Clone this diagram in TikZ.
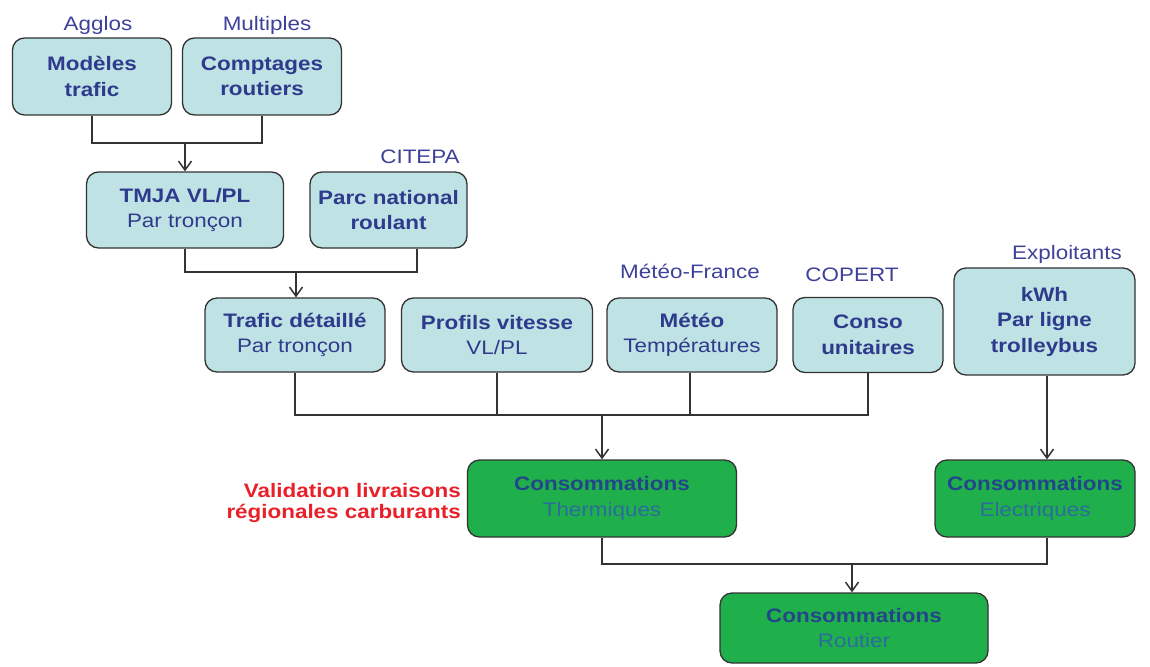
\documentclass[tikz,border=0pt]{standalone}
\usepackage{fontspec}
\setmainfont[FakeStretch=1.15]{Liberation Sans}
\usetikzlibrary{arrows.meta,calc}
\definecolor{boxfill}{HTML}{BFE2E4}
\definecolor{navy}{HTML}{2E3B8C}
\definecolor{lblblue}{HTML}{3E4199}
\definecolor{gfill}{HTML}{1FAF4B}
\definecolor{gtext}{HTML}{23468A}
\definecolor{gsub}{HTML}{2C6C9E}
\definecolor{redtxt}{HTML}{E8202A}
\definecolor{linec}{HTML}{333333}
\tikzset{
  bluebox/.style={draw=linec, line width=1.3pt, fill=boxfill, rounded corners=12pt,
    inner sep=0pt, align=center, text=navy, font=\fontsize{19.5}{25.5}\selectfont},
  greenbox/.style={draw=linec, line width=1.3pt, fill=gfill, rounded corners=12pt,
    inner sep=0pt, align=center, font=\fontsize{19.5}{25.5}\selectfont},
  srclabel/.style={text=lblblue, font=\fontsize{19.5}{22}\selectfont, inner sep=0pt},
  conn/.style={draw=linec, line width=1.6pt},
  arr/.style={conn, -{Straight Barb[length=9pt,width=13pt,line width=1.5pt]}},
}
\begin{document}
\begin{tikzpicture}[x=1pt,y=-1pt]
\useasboundingbox (0,0) rectangle (1150,666);
% top row
\node[bluebox, minimum width=159pt, minimum height=77pt] (mod) at (92,76.5) {\textbf{Modèles}\\\textbf{trafic}};
\node[bluebox, minimum width=159pt, minimum height=77pt] (comp) at (262,76.5) {\textbf{Comptages}\\\textbf{routiers}};
\node[srclabel] (lagg) at (98,25) {Agglos};
\node[srclabel] (lmul) at (267,25) {Multiples};
% second row
\node[bluebox, minimum width=197pt, minimum height=76pt] (tmja) at (185,210) {\textbf{TMJA VL/PL}\\Par tronçon};
\node[bluebox, minimum width=157pt, minimum height=76pt] (parc) at (388.5,210) {\textbf{Parc national}\\\textbf{roulant}};
\node[srclabel] (lcit) at (420,157) {CITEPA};
% third row
\node[bluebox, minimum width=180pt, minimum height=74pt] (traf) at (295,335) {\textbf{Trafic détaillé}\\Par tronçon};
\node[bluebox, minimum width=191pt, minimum height=74pt] (prof) at (497,335) {\textbf{Profils vitesse}\\VL/PL};
\node[bluebox, minimum width=170pt, minimum height=74pt] (meteo) at (692,335) {\textbf{Météo}\\Températures};
\node[bluebox, minimum width=150pt, minimum height=75pt] (conso) at (868,335) {\textbf{Conso}\\\textbf{unitaires}};
\node[bluebox, minimum width=181pt, minimum height=107pt] (kwh) at (1044.5,321.5) {\textbf{kWh}\\\textbf{Par ligne}\\\textbf{trolleybus}};
\node[srclabel] (lmet) at (690,271) {Météo-France};
\node[srclabel] (lcop) at (852,275) {COPERT};
\node[srclabel] (lexp) at (1067,254) {Exploitants};
% green row
\node[greenbox, minimum width=269pt, minimum height=77pt] (ther) at (602,498.5) {\textcolor{gtext}{\textbf{Consommations}}\\\textcolor{gsub}{Thermiques}};
\node[greenbox, minimum width=200pt, minimum height=77pt] (elec) at (1035,498.5) {\textcolor{gtext}{\textbf{Consommations}}\\\textcolor{gsub}{Electriques}};
\node[greenbox, minimum width=268pt, minimum height=70pt] (rout) at (854,628) {\textcolor{gtext}{\textbf{Consommations}}\\\textcolor{gsub}{Routier}};
\node[anchor=east, align=right, text=redtxt, inner sep=0pt, font=\fontsize{19.5}{21}\selectfont\bfseries] (valid) at (461,503) {Validation livraisons\\régionales carburants};
% junctions
\coordinate (j1) at (185,143);
\coordinate (j2) at (296,272);
\coordinate (j3) at (602,415);
\coordinate (j4) at (852,564);
% connectors
\draw[conn] (mod.south) |- (j1) -| (comp.south);
\draw[arr] (j1) -- (tmja.north);
\draw[conn] (tmja.south) |- (j2) -| ($(parc.south)+(28.5,0)$);
\draw[arr] (j2) -- (j2 |- traf.north);
\draw[conn] (traf.south) |- (j3) -| (conso.south);
\draw[conn] (prof.south) -- (prof.south |- j3);
\draw[conn] ($(meteo.south)+(-2,0)$) -- ($(meteo.south |- j3)+(-2,0)$);
\draw[arr, line width=2.2pt] (j3) -- (ther.north);
\draw[arr] ($(kwh.south)+(2.5,0)$) -- ($(elec.north)+(12,0)$);
\draw[conn] (ther.south) |- (j4) -| ($(elec.south)+(12,0)$);
\draw[arr] (j4) -- (j4 |- rout.north);
\end{tikzpicture}
\end{document}
